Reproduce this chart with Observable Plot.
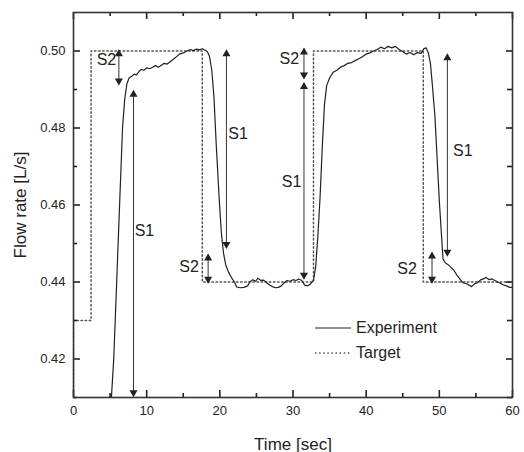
<!DOCTYPE html>
<html><head><meta charset="utf-8">
<script src="https://cdn.jsdelivr.net/npm/d3@7"></script>
<script src="https://cdn.jsdelivr.net/npm/@observablehq/plot@0.6"></script>
<style>
body{margin:0;background:#fff;font-family:"Liberation Sans",Arial,sans-serif;}
#wrap{position:relative;width:524px;height:452px;}
#legend{position:absolute;left:315px;top:315px;font-size:16px;color:#222;}
#legend .row{display:flex;align-items:center;height:25px;}
#legend svg{margin-right:5px;}
</style></head><body><div id="wrap"></div>
<script>
// Experiment series (time in s, flow in L/s)
const expTime = [5.15,5.5,5.9,6.3,6.7,7.0,7.3,7.6,8.0,8.3,8.6,9.0,9.3,9.6,10.0,10.4,10.8,11.2,11.6,12.0,12.4,12.8,13.2,13.6,14.0,14.5,15.0,15.5,16.0,16.4,16.8,17.2,17.6,18.0,18.3,
 18.6,18.9,19.2,19.5,19.9,20.2,20.5,20.8,21.2,21.7,22.0,22.3,22.8,23.3,23.8,24.1,24.5,24.9,25.2,25.6,26.0,26.4,26.8,27.2,27.6,28.0,28.4,28.8,29.2,29.6,30.0,30.4,30.8,31.2,31.6,32.0,32.4,32.8,
 33.1,33.4,33.7,34.0,34.3,34.6,35.0,35.5,36.0,36.5,37.0,37.5,38.0,38.5,39.0,39.5,40.0,40.5,41.0,41.5,42.0,42.5,43.0,43.5,44.0,44.5,45.0,45.5,46.0,46.5,47.0,47.5,47.9,48.2,
 48.5,48.8,49.1,49.4,49.7,50.0,50.3,50.5,50.8,51.2,51.6,52.0,52.4,52.8,53.2,53.8,54.4,54.8,55.2,55.6,56.0,56.4,56.8,57.2,57.6,58.0,58.4,58.8,59.2,59.6,60.0];
const expFlow = [0.409,0.420,0.440,0.460,0.480,0.4875,0.4915,0.4930,0.4935,0.4940,0.4938,0.4948,0.4952,0.4950,0.4956,0.4954,0.4958,0.4962,0.4958,0.4963,0.4968,0.4966,0.4972,0.4978,0.4984,0.4992,0.4995,0.5000,0.5004,0.5001,0.5005,0.5003,0.5006,0.5002,0.4998,
 0.4985,0.4950,0.4880,0.4760,0.4620,0.4530,0.4475,0.4445,0.4425,0.4408,0.4400,0.4387,0.4385,0.4386,0.4390,0.4400,0.4406,0.4402,0.4410,0.4404,0.4405,0.4398,0.4392,0.4388,0.4385,0.4386,0.4390,0.4398,0.4404,0.4402,0.4406,0.4404,0.4408,0.4404,0.4392,0.4390,0.4395,0.4405,
 0.4440,0.4520,0.4620,0.4750,0.4860,0.4910,0.4930,0.4945,0.4950,0.4958,0.4962,0.4968,0.4970,0.4975,0.4980,0.4985,0.4992,0.4995,0.5000,0.5004,0.5010,0.5006,0.5012,0.5008,0.5012,0.5004,0.4998,0.4992,0.4996,0.4990,0.4996,0.4994,0.5006,0.5008,
 0.4995,0.4965,0.4900,0.4830,0.4720,0.4610,0.4520,0.4460,0.4450,0.4445,0.4438,0.4430,0.4418,0.4408,0.4398,0.4395,0.4388,0.4395,0.4398,0.4405,0.4408,0.4412,0.4406,0.4408,0.4404,0.4400,0.4396,0.4392,0.4390,0.4386,0.4386];

// Target set-point (step-after)
const targetTime = [0,0,2.4,17.6,32.8,47.8,60];
const targetFlow = [0.40,0.43,0.50,0.44,0.50,0.44,0.44];

// Annotation arrows S1 / S2
const arrowLabel = ["S2","S1","S1","S2","S2","S1","S1","S2"];
const arrowTime = [6.2,8.2,20.9,18.4,31.5,31.5,51.1,49.0];
const arrowTop = [0.5000,0.4895,0.5000,0.4470,0.5005,0.4915,0.4990,0.4475];
const arrowBottom = [0.4915,0.4105,0.4490,0.4400,0.4930,0.4410,0.4470,0.4400];
const labelTime = [4.5,9.7,22.5,15.8,29.5,29.8,53.2,45.6];
const labelFlow = [0.4978,0.4534,0.4785,0.4438,0.4979,0.4661,0.4740,0.4433];

// Axis ticks
const xMajor = [0,10,20,30,40,50,60];
const xMinor = [5,15,25,35,45,55];
const yMajor = [0.42,0.44,0.46,0.48,0.50];
const yMinor = [0.41,0.43,0.45,0.47,0.49];

const exp = expTime.map((t,i)=>({t, v: expFlow[i]}));
const target = targetTime.map((t,i)=>({t, v: targetFlow[i]}));
const arrows = arrowLabel.map((label,i)=>({label, x: arrowTime[i], top: arrowTop[i], bottom: arrowBottom[i], lx: labelTime[i], ly: labelFlow[i]}));

const W = 524, H = 452, mL = 73, mR = 12, mT = 12, mB = 55;
const fw = W - mL - mR, fh = H - mT - mB;
const tickStyle = {stroke:"#222", strokeWidth:1.6};
const xTicks = (vals, len) => [
  Plot.ruleX(vals, {x: d=>d, insetTop: fh - len, ...tickStyle}),
  Plot.ruleX(vals, {x: d=>d, insetBottom: fh - len, ...tickStyle})
];
const yTicks = (vals, lenL, lenR) => [
  Plot.ruleY(vals, {y: d=>d, insetRight: fw - lenL, ...tickStyle}),
  Plot.ruleY(vals, {y: d=>d, insetLeft: fw - lenR, ...tickStyle})
];

const chart = Plot.plot({
  width: W, height: H,
  marginLeft: mL, marginRight: mR, marginTop: mT, marginBottom: mB,
  x: {domain: [0,60]},
  y: {domain: [0.41,0.51]},
  style: {fontFamily: "'Liberation Sans', Arial, sans-serif", color: "#222", background: "#fff"},
  marks: [
    Plot.line(target, {x:"t", y:"v", curve:"step-after", stroke:"#555", strokeWidth:1.5, strokeDasharray:"1.5,2.6", clip:true}),
    Plot.line(exp, {x:"t", y:"v", stroke:"#222", strokeWidth:1.2, clip:true}),
    Plot.ruleX(arrows, {x:"x", y1:"top", y2:"bottom", stroke:"#333", strokeWidth:1}),
    Plot.dot(arrows, {x:"x", y:"top", symbol:"triangle", r:3, fill:"#222", stroke:null, dy:3}),
    Plot.dot(arrows, {x:"x", y:"bottom", symbol:"triangle", rotate:180, r:3, fill:"#222", stroke:null, dy:-3}),
    Plot.text(arrows, {x:"lx", y:"ly", text:"label", fontSize:16, fill:"#222"}),
    Plot.axisX(xMajor, {anchor:"bottom", tickSize:0, tickPadding:8, fontSize:13, label:"Time [sec]", labelAnchor:"center", labelOffset:52, labelArrow:"none"}),
    Plot.axisY(yMajor, {anchor:"left", tickSize:0, tickPadding:8, fontSize:13, tickFormat:d3.format(".2f"), label:"Flow rate [L/s]", labelAnchor:"center", labelOffset:60, labelArrow:"none"}),
    ...xTicks(xMajor, 7),
    ...xTicks(xMinor, 4),
    ...yTicks(yMajor, 7, 6),
    ...yTicks(yMinor, 4, 5),
    Plot.frame({stroke:"#333", strokeWidth:1.6})
  ]
});
chart.querySelectorAll('g[aria-label="x-axis label"] text, g[aria-label="y-axis label"] text').forEach(t => t.style.fontSize = "17px");
const wrap = document.getElementById("wrap");
wrap.appendChild(chart);

const legend = document.createElement("div");
legend.id = "legend";
legend.innerHTML =
  '<div class="row"><svg width="36" height="10"><line x1="0" y1="5" x2="36" y2="5" stroke="#222" stroke-width="1.2"/></svg><span>Experiment</span></div>' +
  '<div class="row"><svg width="36" height="10"><line x1="0" y1="5" x2="36" y2="5" stroke="#555" stroke-width="1.5" stroke-dasharray="1.5,2.6"/></svg><span>Target</span></div>';
wrap.appendChild(legend);
</script>
</body></html>
